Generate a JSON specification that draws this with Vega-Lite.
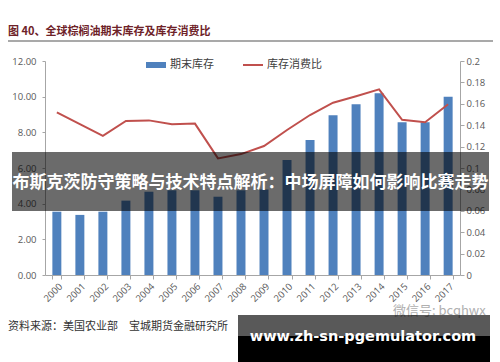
{
  "$schema": "https://vega.github.io/schema/vega-lite/v6.json",
  "autosize": "none",
  "width": 415,
  "height": 214,
  "padding": {"left": 45, "top": 61, "right": 40, "bottom": 87},
  "background": "white",
  "config": {
    "view": {"stroke": null},
    "font": "Noto Sans CJK SC",
    "axis": {"labelFont": "Open Sans", "labelFontSize": 9.5, "labelColor": "#595959", "domainColor": "#a6a6a6", "tickColor": "#a6a6a6", "grid": false, "title": null}
  },
  "data": {
    "values": [
      {"year": "2000", "stock": 3.55, "ratio": 0.152},
      {"year": "2001", "stock": 3.37, "ratio": 0.141},
      {"year": "2002", "stock": 3.55, "ratio": 0.130},
      {"year": "2003", "stock": 4.17, "ratio": 0.144},
      {"year": "2004", "stock": 4.67, "ratio": 0.1445},
      {"year": "2005", "stock": 4.75, "ratio": 0.141},
      {"year": "2006", "stock": 4.75, "ratio": 0.1415},
      {"year": "2007", "stock": 4.39, "ratio": 0.109},
      {"year": "2008", "stock": 4.75, "ratio": 0.113},
      {"year": "2009", "stock": 4.8, "ratio": 0.1205},
      {"year": "2010", "stock": 6.45, "ratio": 0.1355},
      {"year": "2011", "stock": 7.57, "ratio": 0.1495},
      {"year": "2012", "stock": 8.96, "ratio": 0.161},
      {"year": "2013", "stock": 9.57, "ratio": 0.167},
      {"year": "2014", "stock": 10.19, "ratio": 0.1735},
      {"year": "2015", "stock": 8.56, "ratio": 0.145},
      {"year": "2016", "stock": 8.56, "ratio": 0.1427},
      {"year": "2017", "stock": 10.0, "ratio": 0.1595}
    ]
  },
  "layer": [
    {
      "mark": {"type": "bar"},
      "encoding": {
        "x": {"field": "year", "type": "ordinal", "scale": {"paddingInner": 0.61, "paddingOuter": 0.32},
              "axis": {"labelAngle": -45, "tickBand": "extent", "tickSize": 4, "labelPadding": 2}},
        "y": {"field": "stock", "type": "quantitative", "scale": {"domain": [0, 12], "nice": false},
              "axis": {"orient": "left", "values": [0, 2, 4, 6, 8, 10, 12], "format": ".2f", "tickSize": 3, "labelPadding": 6}},
        "fill": {"datum": "期末库存", "scale": {"range": ["#4f81bd"]},
                 "legend": {"orient": "none", "legendX": 100, "legendY": -7, "title": null, "symbolType": "M-1,-0.3L1,-0.3L1,0.3L-1,0.3Z", "symbolSize": 400, "labelFontSize": 11, "labelColor": "#404040", "labelOffset": 3, "padding": 0}}
      }
    },
    {
      "mark": {"type": "line", "strokeWidth": 2},
      "encoding": {
        "x": {"field": "year", "type": "ordinal"},
        "y": {"field": "ratio", "type": "quantitative", "scale": {"domain": [0, 0.2], "nice": false},
              "axis": {"orient": "right", "values": [0, 0.02, 0.04, 0.06, 0.08, 0.1, 0.12, 0.14, 0.16, 0.18, 0.2], "format": "~g", "tickSize": 4, "labelPadding": 2}},
        "stroke": {"datum": "库存消费比", "scale": {"range": ["#c0504d"]},
                   "legend": {"orient": "none", "legendX": 197, "legendY": -7, "title": null, "symbolType": "stroke", "symbolSize": 400, "symbolStrokeWidth": 2, "labelFontSize": 11, "labelColor": "#404040", "labelOffset": 3, "padding": 0}}
      }
    },
    {
      "data": {"values": [{"t": "图 40、全球棕榈油期末库存及库存消费比"}]},
      "mark": {"type": "text", "align": "left", "baseline": "middle", "fontSize": 11, "fontWeight": "bold", "color": "#6e2228", "font": "Noto Sans CJK SC"},
      "encoding": {"text": {"field": "t"}, "x": {"value": -37}, "y": {"value": -29.5}}
    },
    {
      "data": {"values": [{}]},
      "mark": {"type": "rule", "stroke": "#8c8c8c", "strokeWidth": 1.5},
      "encoding": {"x": {"value": -37}, "x2": {"value": 448}, "y": {"value": -20}}
    },
    {
      "data": {"values": [{}]},
      "mark": {"type": "rect", "fill": "#000000", "opacity": 0.58},
      "encoding": {"x": {"value": -33}, "x2": {"value": 444}, "y": {"value": 91}, "y2": {"value": 150}}
    },
    {
      "data": {"values": [{"t": "布斯克茨防守策略与技术特点解析：中场屏障如何影响比赛走势"}]},
      "mark": {"type": "text", "align": "center", "baseline": "middle", "fontSize": 17, "fontWeight": "bold", "color": "white", "font": "Noto Sans CJK SC"},
      "encoding": {"text": {"field": "t"}, "x": {"value": 205.5}, "y": {"value": 121.5}}
    },
    {
      "data": {"values": [{"t": "资料来源：美国农业部　宝城期货金融研究所"}]},
      "mark": {"type": "text", "align": "left", "baseline": "middle", "fontSize": 11, "color": "#333333", "font": "Noto Sans CJK SC"},
      "encoding": {"text": {"field": "t"}, "x": {"value": -37}, "y": {"value": 266}}
    },
    {
      "data": {"values": [{"t": "微信号: bcqhwx"}]},
      "mark": {"type": "text", "align": "left", "baseline": "middle", "fontSize": 13, "color": "#b0b0b0", "font": "Noto Sans CJK SC"},
      "encoding": {"text": {"field": "t"}, "x": {"value": 348}, "y": {"value": 250}}
    },
    {
      "data": {"values": [{}]},
      "mark": {"type": "rect", "fill": "#000000", "opacity": 0.65},
      "encoding": {"x": {"value": 193}, "x2": {"value": 445}, "y": {"value": 254}, "y2": {"value": 275}}
    },
    {
      "data": {"values": [{}]},
      "mark": {"type": "rect", "fill": "#000000"},
      "encoding": {"x": {"value": 193}, "x2": {"value": 445}, "y": {"value": 275}, "y2": {"value": 301}}
    },
    {
      "data": {"values": [{"t": "www.zh-sn-pgemulator.com"}]},
      "mark": {"type": "text", "align": "center", "baseline": "middle", "fontSize": 14.5, "fontWeight": "bold", "color": "white", "font": "DejaVu Sans"},
      "encoding": {"text": {"field": "t"}, "x": {"value": 318}, "y": {"value": 276}}
    }
  ],
  "resolve": {"scale": {"y": "independent", "fill": "independent", "stroke": "independent"}}
}
